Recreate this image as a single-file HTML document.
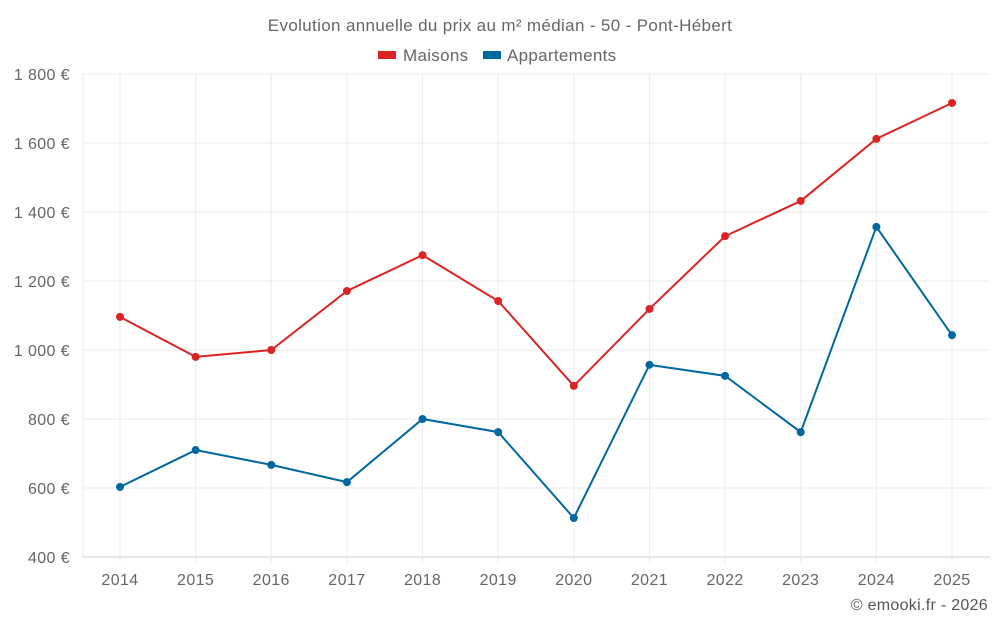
<!DOCTYPE html>
<html><head><meta charset="utf-8"><style>
body{margin:0;background:#fff;font-family:"Liberation Sans",sans-serif}
svg text{font-family:"Liberation Sans",sans-serif}
</style></head><body>
<svg id="chart" width="1000" height="625">
<text x="500" y="31" text-anchor="middle" font-size="17" letter-spacing="0.35" fill="#666">Evolution annuelle du prix au m² médian - 50 - Pont-Hébert</text>
<g>
<g><rect x="378" y="51" width="18" height="8" fill="#dc2323"/><text x="403" y="61" font-size="17" letter-spacing="0.3" fill="#666">Maisons</text></g>
<g><rect x="483" y="51" width="18" height="8" fill="#0068a0"/><text x="507" y="61" font-size="17" letter-spacing="0.3" fill="#666">Appartements</text></g>
</g>
<g id="grid"></g><g id="axes"></g><g id="series"></g>
<text x="988" y="610" text-anchor="end" font-size="16" letter-spacing="0.3" fill="#555">© emooki.fr - 2026</text>
</svg>
<script>
const years=["2014","2015","2016","2017","2018","2019","2020","2021","2022","2023","2024","2025"];
const maisons=[1096,980,1000,1171,1275,1142,896,1119,1330,1432,1612,1716];
const appartements=[603,710,667,617,800,762,513,957,925,762,1357,1043];
const yTicks=[400,600,800,1000,1200,1400,1600,1800];
const yLabels=["400 €","600 €","800 €","1 000 €","1 200 €","1 400 €","1 600 €","1 800 €"];
const NS="http://www.w3.org/2000/svg";
const L=83,R=990,T=74,B=557,yMin=400,yMax=1800;
const x=i=>120+i*(952-120)/(years.length-1);
const y=v=>B-(v-yMin)/(yMax-yMin)*(B-T);
function mk(tag,attrs,parent){const e=document.createElementNS(NS,tag);for(const k in attrs)e.setAttribute(k,attrs[k]);parent.appendChild(e);return e;}
const grid=document.getElementById('grid'),axes=document.getElementById('axes'),ser=document.getElementById('series');
yTicks.forEach((t,i)=>{
 const g=mk('line',{x1:L,x2:R,y1:y(t),y2:y(t),stroke:i==0?'#ccc':'#ebebeb'},grid);
 
 
 const tx=mk('text',{x:70,y:y(t)+6,'text-anchor':'end','font-size':16,'letter-spacing':0.4,fill:'#666'},axes);
 tx.textContent=yLabels[i];
 
 
});
mk('line',{x1:L,x2:L,y1:T,y2:B,stroke:'#ebebeb'},grid);
years.forEach((yr,i)=>{
 const g=mk('line',{x1:x(i),x2:x(i),y1:T,y2:B+6,stroke:'#ebebeb'},grid);
 
 
 const tx=mk('text',{x:x(i),y:585,'text-anchor':'middle','font-size':16,'letter-spacing':0.4,fill:'#666'},axes);
 tx.textContent=yr;
 
 
});
function series(vals,color,name){
 const p=mk('polyline',{points:vals.map((v,i)=>x(i)+','+y(v)).join(' '),fill:'none',stroke:color,'stroke-width':2},ser);
 
 
 vals.forEach((v,i)=>{
  const c=mk('circle',{cx:x(i),cy:y(v),r:4,fill:color},ser);
  
  
 });
}
series(maisons,'#dc2323','maisons');
series(appartements,'#0068a0','appartements');
</script>
</body></html>
